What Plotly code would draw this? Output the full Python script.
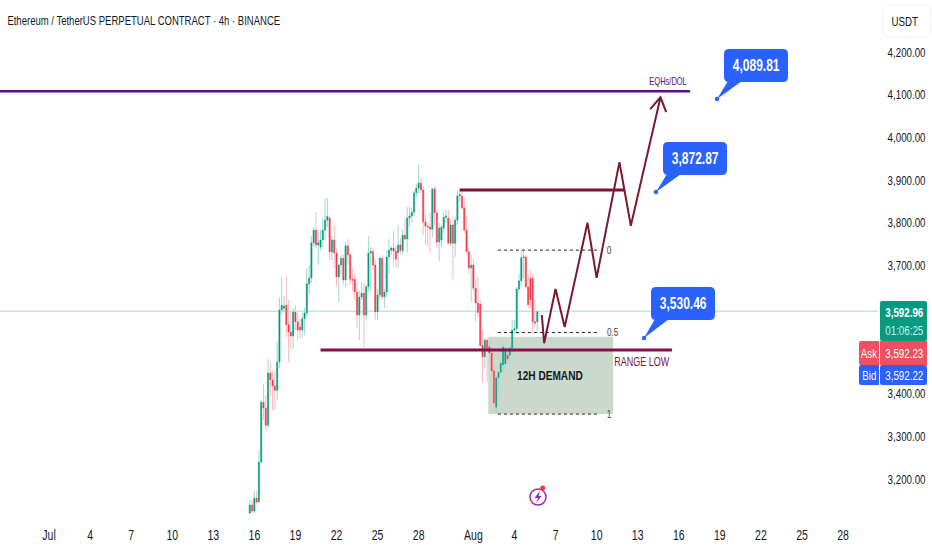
import pandas as pd
import plotly.graph_objects as go

START = "2025-07-15 16:00"
opens = [3120,3139,3125,3155,3146,3240,3380,3366,3326,3448,
3432,3418,3408,3474,3596,3600,3607,3561,3544,3535,
3591,3568,3556,3549,3575,3589,3657,3671,3753,3783,
3748,3743,3760,3783,3806,3811,3732,3760,3729,3673,
3701,3717,3666,3746,3725,3668,3668,3638,3584,3626,
3635,3584,3650,3729,3733,3701,3591,3631,3717,3627,
3638,3720,3736,3741,3734,3730,3748,3735,3771,3762,
3811,3816,3825,3870,3881,3893,3877,3802,3792,3790,
3785,3879,3823,3755,3760,3788,3813,3811,3752,3795,
3752,3806,3863,3863,3835,3783,3732,3694,3701,3647,
3612,3610,3513,3486,3525,3510,3495,3453,3368,3437,
3450,3467,3470,3490,3490,3507,3549,3552,3645,3664,
3718,3720,3650,3670,3670,3568,3568]
highs = [3151,3150,3172,3172,3266,3385,3422,3397,3481,3474,
3453,3453,3521,3624,3673,3629,3673,3619,3590,3600,
3607,3590,3575,3590,3600,3694,3699,3769,3790,3825,
3783,3783,3811,3856,3858,3815,3770,3795,3740,3704,
3725,3725,3755,3762,3730,3693,3680,3660,3640,3661,
3661,3655,3769,3745,3741,3715,3645,3720,3725,3645,
3735,3762,3745,3781,3745,3795,3765,3785,3809,3837,
3837,3835,3877,3890,3938,3905,3885,3820,3800,3825,
3881,3885,3830,3800,3795,3825,3830,3830,3810,3815,
3815,3875,3877,3875,3860,3815,3740,3725,3715,3670,
3673,3620,3550,3530,3530,3525,3510,3470,3440,3450,
3480,3515,3515,3510,3510,3572,3572,3650,3680,3736,
3736,3725,3680,3690,3680,3620,3592]
lows = [3120,3120,3120,3140,3146,3235,3338,3312,3320,3395,
3361,3364,3385,3460,3584,3590,3532,3474,3505,3504,
3549,3525,3530,3532,3537,3580,3631,3660,3745,3741,
3701,3735,3743,3760,3790,3713,3713,3694,3650,3614,
3680,3655,3650,3700,3655,3640,3620,3554,3525,3620,
3507,3570,3640,3640,3690,3572,3572,3620,3620,3600,
3625,3680,3725,3700,3695,3695,3725,3725,3760,3730,
3790,3800,3815,3860,3870,3870,3771,3748,3745,3727,
3765,3795,3743,3710,3743,3775,3800,3750,3745,3668,
3720,3795,3850,3830,3775,3730,3682,3614,3640,3568,
3580,3510,3427,3460,3427,3470,3440,3365,3354,3400,
3440,3450,3460,3470,3470,3495,3540,3540,3635,3650,
3670,3645,3600,3600,3540,3555,3544]
closes = [3139,3125,3155,3146,3240,3380,3366,3326,3448,3432,
3418,3408,3474,3596,3607,3605,3561,3544,3535,3591,
3568,3549,3549,3575,3589,3657,3671,3753,3783,3748,
3753,3760,3783,3806,3815,3732,3760,3729,3673,3701,
3717,3666,3746,3725,3668,3665,3638,3584,3626,3635,
3584,3650,3729,3733,3701,3591,3631,3717,3627,3638,
3720,3736,3741,3734,3715,3748,3735,3771,3762,3811,
3816,3825,3870,3881,3893,3877,3802,3792,3790,3785,
3879,3823,3755,3788,3790,3813,3816,3752,3795,3752,
3806,3863,3866,3835,3783,3732,3694,3701,3647,3612,
3590,3513,3486,3525,3502,3495,3453,3378,3437,3450,
3471,3509,3505,3481,3507,3549,3552,3645,3664,3718,
3720,3650,3608,3620,3568,3565,3592]

tick_dates = ["2025-07-01","2025-07-04","2025-07-07","2025-07-10","2025-07-13","2025-07-16","2025-07-19",
              "2025-07-22","2025-07-25","2025-07-28","2025-08-01","2025-08-04","2025-08-07","2025-08-10",
              "2025-08-13","2025-08-16","2025-08-19","2025-08-22","2025-08-25","2025-08-28"]
tick_labels = ["Jul","4","7","10","13","16","19","22","25","28","Aug","4","7","10","13","16","19","22","25","28"]
price_ticks = [4200,4100,4000,3900,3800,3700,3400,3300,3200]

path_dates = ["2025-08-06 00:00","2025-08-06 04:00","2025-08-07 00:00","2025-08-07 16:00","2025-08-09 08:00",
              "2025-08-10 00:00","2025-08-11 16:00","2025-08-12 12:00","2025-08-14 16:00"]
path_prices = [3584,3518,3645,3556,3800,3671,3942,3793,4094]
head_dates = ["2025-08-13 22:00","2025-08-14 16:00","2025-08-15 02:00"]
head_prices = [4066,4094,4059]

FONT = "Liberation Sans"
W, H = 932, 550
AXIS_BOTTOM = 519
GREEN, RED, BLUE = "#089981", "#f23645", "#2962ff"
dates = pd.date_range(START, periods=len(opens), freq="4h")
body_high = [max(o, c) for o, c in zip(opens, closes)]
body_low = [min(o, c) for o, c in zip(opens, closes)]

def px(x): return x / W
def py(y): return 1 - y / H
def to_date(x): return (pd.Timestamp("2025-07-01") + pd.Timedelta(days=(x - 49) / 13.69)).strftime("%Y-%m-%d %H:%M")
def to_price(y): return 4321.8 - 2.342 * y

fig = go.Figure()
# pale wicks
fig.add_trace(go.Candlestick(x=dates, open=opens, high=highs, low=lows, close=closes,
    increasing=dict(line=dict(color="#9fd8cc", width=1), fillcolor="#9fd8cc"),
    decreasing=dict(line=dict(color="#f9b9c0", width=1), fillcolor="#f9b9c0"),
    whiskerwidth=0, showlegend=False, hoverinfo="skip"))
# solid bodies
fig.add_trace(go.Candlestick(x=dates, open=opens, high=body_high, low=body_low, close=closes,
    increasing=dict(line=dict(color=GREEN, width=0.3), fillcolor=GREEN),
    decreasing=dict(line=dict(color=RED, width=0.3), fillcolor=RED),
    whiskerwidth=0, showlegend=False, hoverinfo="skip"))
# projected path
fig.add_trace(go.Scatter(x=path_dates, y=path_prices, mode="lines", line=dict(color="#7a1a30", width=2),
                         showlegend=False, hoverinfo="skip"))
fig.add_trace(go.Scatter(x=head_dates, y=head_prices, mode="lines", line=dict(color="#7a1a30", width=2),
                         showlegend=False, hoverinfo="skip"))

shapes = []
def hline(x0, x1, y, color, width, dash="solid", layer="above"):
    shapes.append(dict(type="line", xref="x", yref="y", x0=x0, x1=x1, y0=y, y1=y, layer=layer,
                       line=dict(color=color, width=width, dash=dash)))

# demand zone
shapes.append(dict(type="rect", xref="x", yref="y", x0="2025-08-02 02:00", x1="2025-08-11 05:00",
                   y0=3352, y1=3533, layer="below", fillcolor="#cbd9cd", line=dict(width=0)))
hline("2025-06-27 10:00", "2025-08-30 13:00", 3592.96, "#9fdccf", 1, layer="below")
hline("2025-06-27 10:00", "2025-08-16 20:00", 4108, "#5a0f80", 2.5)
hline("2025-07-31 00:00", "2025-08-12 00:00", 3877, "#7d1238", 3)
hline("2025-07-20 20:00", "2025-08-15 12:00", 3502, "#860f4c", 3)
hline("2025-08-02 19:00", "2025-08-10 06:00", 3736, "#222222", 1, "3px,3px")
hline("2025-08-02 19:00", "2025-08-10 06:00", 3543, "#222222", 1, "3px,3px")
hline("2025-08-02 19:00", "2025-08-10 06:00", 3352, "#222222", 1, "3px,3px")

def rpath(x0, y0, x1, y1, r=4, tl=True, tr=True, br=True, bl=True):
    a, b = px(x0), px(x1)
    t, u = py(y0), py(y1)
    rx, ry = r / W, r / H
    d = f"M{a + (rx if tl else 0)},{t} L{b - (rx if tr else 0)},{t} "
    d += f"Q{b},{t} {b},{t - ry} " if tr else ""
    d += f"L{b},{u + (ry if br else 0)} "
    d += f"Q{b},{u} {b - rx},{u} " if br else ""
    d += f"L{a + (rx if bl else 0)},{u} "
    d += f"Q{a},{u} {a},{u + ry} " if bl else ""
    d += f"L{a},{t - (ry if tl else 0)} "
    d += f"Q{a},{t} {a + rx},{t} " if tl else ""
    return d + "Z"

def box(x0, y0, x1, y1, fill, r=4, line=None, **kw):
    shapes.append(dict(type="path", xref="paper", yref="paper", path=rpath(x0, y0, x1, y1, r, **kw),
                       fillcolor=fill, line=dict(width=1 if line else 0, color=line or fill), layer="above"))

def label(x, y, text, size=12, color="#131722", bold=False):
    t = f"<b>{text}</b>" if bold else text
    fig.add_annotation(xref="x", yref="y", x=to_date(x), y=to_price(y), text=t, showarrow=False,
                       xanchor="center", yanchor="middle", font=dict(family=FONT, size=size, color=color))

# callouts
callouts = [("4,089.81", 724, 49, 788, 82, 717, 99, 728, 742),
            ("3,872.87", 663, 142, 727, 175, 656, 192, 667, 681),
            ("3,530.46", 651, 287, 715, 320, 644, 338, 655, 669)]
for txt, x0, y0, x1, y1, dx, dy, t0, t1 in callouts:
    box(x0, y0, x1, y1, BLUE, r=5)
    shapes.append(dict(type="path", xref="paper", yref="paper", layer="above", fillcolor=BLUE, line=dict(width=0),
                       path=f"M{px(t0)},{py(y1-1)} L{px(dx)},{py(dy)} L{px(t1)},{py(y1-1)} Z"))
    shapes.append(dict(type="circle", xref="paper", yref="paper", layer="above", fillcolor=BLUE, line=dict(width=0),
                       x0=px(dx-2.2), x1=px(dx+2.2), y0=py(dy+2.2), y1=py(dy-2.2)))
    label((x0 + x1) / 2, (y0 + y1) / 2, txt, size=16, color="white", bold=True)

# price panel
box(883, 5, 930, 37, "white", r=5, line="#f0f3fa")
label(904, 21, "USDT", size=13)
box(880, 301, 927, 341, GREEN, r=2)
box(859, 341, 879, 365, "#ef5061", r=2, tr=False, br=False)
box(880, 341, 927, 365, "#ef5061", r=0)
box(859, 365, 879, 385, BLUE, r=2, tr=False, br=False)
box(880, 365, 927, 385, BLUE, r=2)
label(904, 312, "3,592.96", size=13, color="white", bold=True)
label(904, 330, "01:06:25", size=13, color="#d6f0ea")
label(869, 353, "Ask", size=13, color="white")
label(904, 353, "3,592.23", size=13, color="white")
label(869, 375, "Bid", size=13, color="white")
label(904, 375, "3,592.22", size=13, color="white")

# bolt icon
shapes.append(dict(type="circle", xref="paper", yref="paper", layer="above", line=dict(color="#9c27b0", width=1.5),
                   x0=px(530), x1=px(546), y0=py(505), y1=py(489)))
shapes.append(dict(type="path", xref="paper", yref="paper", layer="above", fillcolor="#9c27b0", line=dict(width=0),
                   path=f"M{px(540)},{py(491)} L{px(534.5)},{py(498)} L{px(538)},{py(498)} L{px(536)},{py(503)} "
                        f"L{px(541.5)},{py(496)} L{px(538.5)},{py(496)} Z"))
shapes.append(dict(type="circle", xref="paper", yref="paper", layer="above", fillcolor="#f23645", line=dict(width=0),
                   x0=px(540.2), x1=px(545.2), y0=py(490.5), y1=py(485.5)))

# chart labels
label(143.5, 21, "Ethereum / TetherUS PERPETUAL CONTRACT · 4h · BINANCE", size=12.7)
label(668, 81, "EQHs/DOL", size=10, color="#4a1280")
label(642, 362, "RANGE LOW", size=12, color="#7d1238")
label(550, 375, "12H DEMAND", size=13.5, bold=True)
label(609, 250, "0", size=11, color="#444444")
label(612, 332, "0.5", size=11, color="#444444")
label(609, 414, "1", size=11, color="#444444")

fig.update_layout(
    width=W, height=H, margin=dict(l=0, r=0, t=0, b=0, autoexpand=False), paper_bgcolor="white", plot_bgcolor="white",
    font=dict(family=FONT, size=13, color="#131722"), shapes=shapes, showlegend=False, hovermode=False,
    xaxis=dict(domain=[0, 1], range=[to_date(0), to_date(W)], type="date",
               tickmode="array", tickvals=tick_dates, ticktext=tick_labels, showgrid=False, zeroline=False,
               showline=False, ticks="outside", ticklen=3, tickcolor="white", rangeslider=dict(visible=False),
               tickfont=dict(size=14), anchor="free", position=1 - AXIS_BOTTOM / H),
    yaxis=dict(domain=[1 - AXIS_BOTTOM / H, 1], range=[to_price(AXIS_BOTTOM), to_price(0)], side="right",
               tickmode="array", tickvals=price_ticks, tickformat=",.2f", showgrid=False, zeroline=False,
               showline=False, ticks="outside", ticklen=6, tickcolor="white", tickfont=dict(size=13),
               anchor="free", position=878 / W),
)
# The reference text is horizontally condensed; no narrow font is installed, so scale the real text along x.
squeeze = """
document.body.style.margin='0';document.documentElement.style.overflow='hidden';
document.querySelectorAll('svg text').forEach(function(t){
  var b=t.getBBox(); if(!b.width) return;
  var a=t.getAttribute('text-anchor')||getComputedStyle(t).textAnchor;
  var c=(a==='start')?b.x:(a==='end'?b.x+b.width:b.x+b.width/2);
  var old=t.getAttribute('transform')||'';
  t.setAttribute('transform',old+' translate('+c+',0) scale(0.75,1) translate('+(-c)+',0)');
});
"""
fig.write_html("out.html", config=dict(displayModeBar=False), post_script=squeeze)
